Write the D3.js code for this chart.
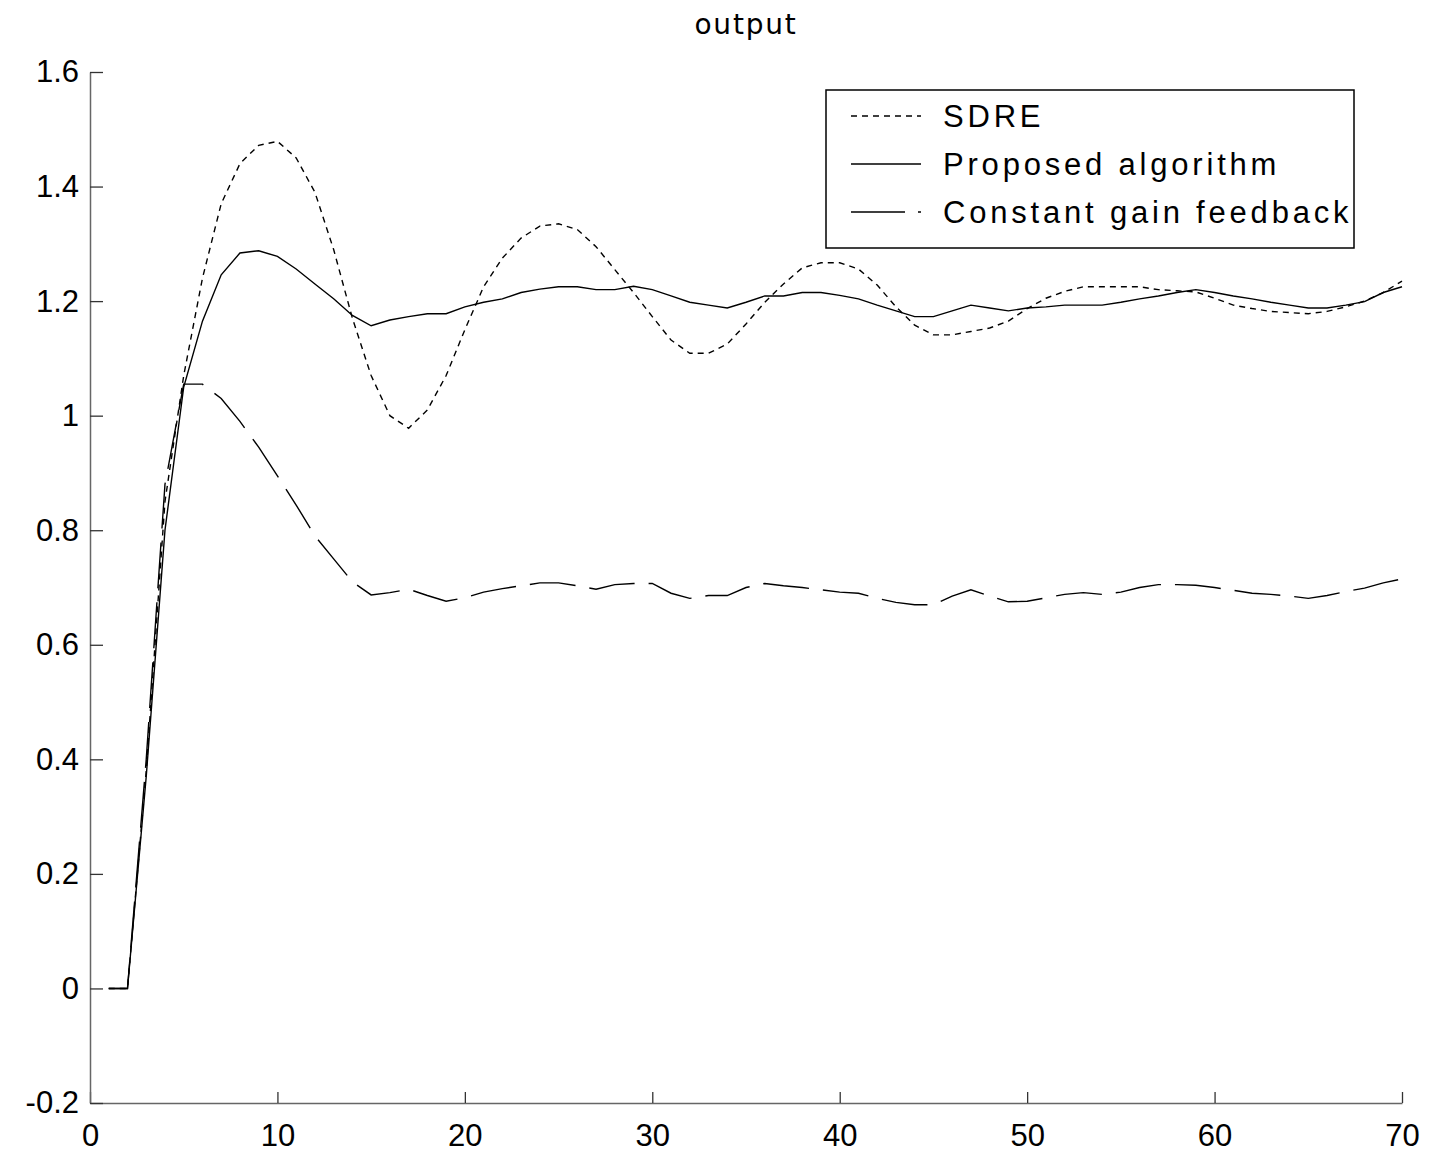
<!DOCTYPE html>
<html>
<head>
<meta charset="utf-8">
<script src="https://cdn.jsdelivr.net/npm/d3@7"></script>
<style>
	body { margin: 0; background: #fff; }
	svg { display: block; }
</style>
</head>
<body>
<div id="chart"></div>
<script>

var titleText = "output";
var xTicks = [0, 10, 20, 30, 40, 50, 60, 70];
var yTicks = [-0.2, 0, 0.2, 0.4, 0.6, 0.8, 1, 1.2, 1.4, 1.6];
var seriesNames = ["SDRE", "Proposed algorithm", "Constant gain feedback"];

// time steps 1..70
var steps = d3.range(1, 71);

var sdre = [0, 0, 0.38, 0.85, 1.07, 1.24, 1.37, 1.44, 1.472, 1.479,
	1.45, 1.39, 1.29, 1.17, 1.07, 1.00, 0.978, 1.01, 1.07, 1.15,
	1.225, 1.275, 1.31, 1.331, 1.335, 1.325, 1.295, 1.255, 1.215, 1.173,
	1.132, 1.109, 1.109, 1.125, 1.16, 1.198, 1.23, 1.258, 1.267, 1.267,
	1.256, 1.228, 1.19, 1.158, 1.141, 1.141, 1.147, 1.153, 1.165, 1.187,
	1.205, 1.217, 1.225, 1.225, 1.225, 1.225, 1.22, 1.218, 1.216, 1.205,
	1.193, 1.187, 1.182, 1.18, 1.178, 1.182, 1.19, 1.2, 1.215, 1.235];

var proposed = [0, 0, 0.37, 0.80, 1.05, 1.165, 1.246, 1.284, 1.288, 1.278,
	1.256, 1.230, 1.204, 1.175, 1.157, 1.167, 1.173, 1.178, 1.178, 1.190,
	1.198, 1.204, 1.215, 1.221, 1.225, 1.225, 1.220, 1.220, 1.226, 1.220,
	1.209, 1.198, 1.193, 1.188, 1.198, 1.209, 1.209, 1.215, 1.215, 1.210,
	1.204, 1.193, 1.183, 1.173, 1.173, 1.183, 1.193, 1.188, 1.183, 1.188,
	1.190, 1.193, 1.193, 1.193, 1.198, 1.204, 1.209, 1.215, 1.220, 1.215,
	1.209, 1.204, 1.198, 1.193, 1.188, 1.188, 1.193, 1.199, 1.215, 1.225];

var constGain = [0, 0, 0.40, 0.88, 1.055, 1.055, 1.03, 0.99, 0.945, 0.895,
	0.844, 0.79, 0.75, 0.71, 0.687, 0.691, 0.697, 0.686, 0.676, 0.682,
	0.692, 0.698, 0.703, 0.708, 0.708, 0.703, 0.697, 0.705, 0.707, 0.707,
	0.69, 0.681, 0.686, 0.686, 0.70, 0.707, 0.703, 0.70, 0.696, 0.692,
	0.690, 0.681, 0.674, 0.670, 0.670, 0.685, 0.696, 0.685, 0.675, 0.676,
	0.682, 0.688, 0.691, 0.688, 0.692, 0.700, 0.705, 0.705, 0.704, 0.700,
	0.695, 0.690, 0.688, 0.685, 0.681, 0.686, 0.693, 0.699, 0.708, 0.715];

var width = 1434, height = 1155;
var margin = {top: 72, right: 32, bottom: 52, left: 90};

var svg = d3.select("#chart")
	.append("svg")
	.attr("width", width)
	.attr("height", height);

var x = d3.scaleLinear()
	.domain([0, 70])
	.range([margin.left, width - margin.right]);

var y = d3.scaleLinear()
	.domain([-0.2, 1.6])
	.range([height - margin.bottom, margin.top]);

// axes, ticks point inward
var xAxis = svg.append("g")
	.attr("transform", "translate(0," + (height - margin.bottom) + ")")
	.call(d3.axisBottom(x).tickValues(xTicks).tickSizeInner(-11).tickSizeOuter(0).tickPadding(21));

var yAxis = svg.append("g")
	.attr("transform", "translate(" + margin.left + ",0)")
	.call(d3.axisLeft(y).tickValues(yTicks).tickSizeInner(-13).tickSizeOuter(0).tickPadding(11)
		.tickFormat(function(d) {return String(+d.toFixed(1));}));

svg.selectAll(".domain").attr("stroke", "#666").attr("stroke-width", 1.5);
svg.selectAll(".tick line").attr("stroke", "#333").attr("stroke-width", 1.3);
svg.selectAll(".tick text")
	.attr("fill", "#000")
	.style("font-family", "'Liberation Sans', Arial, sans-serif")
	.style("font-size", "31px");

xAxis.selectAll(".tick text").attr("dy", "0.71em");

// title
svg.append("text")
	.attr("x", (x(0) + x(70)) / 2)
	.attr("y", 34)
	.attr("text-anchor", "middle")
	.style("font-family", "'DejaVu Sans', sans-serif")
	.style("font-size", "28px")
	.style("letter-spacing", "1.8px")
	.text(titleText);

// lines
var dashes = ["6,5", null, "46,14"];
var seriesData = [sdre, proposed, constGain];

var line = d3.line()
	.x(function(d, i) {return x(steps[i]);})
	.y(function(d) {return y(d);});

svg.selectAll(".series")
	.data(seriesData)
	.enter()
	.append("path")
	.attr("class", "series")
	.attr("d", function(d) {return line(d);})
	.attr("fill", "none")
	.attr("stroke", "#000")
	.attr("stroke-width", 1.4)
	.attr("stroke-dasharray", function(d, i) {return dashes[i];});

// legend
var legend = svg.append("g")
	.attr("transform", "translate(826,90)");

legend.append("rect")
	.attr("x", 0)
	.attr("y", 0)
	.attr("width", 528)
	.attr("height", 158)
	.attr("fill", "#fff")
	.attr("stroke", "#000")
	.attr("stroke-width", 1.5);

var legendDashes = ["6,5", null, "54,13"];

var item = legend.selectAll(".item")
	.data(seriesNames)
	.enter()
	.append("g")
	.attr("class", "item")
	.attr("transform", function(d, i) {return "translate(0," + (26 + i * 48) + ")";});

item.append("line")
	.attr("x1", 25)
	.attr("x2", 95)
	.attr("y1", 0)
	.attr("y2", 0)
	.attr("stroke", "#000")
	.attr("stroke-width", 1.3)
	.attr("stroke-dasharray", function(d, i) {return legendDashes[i];});

item.append("text")
	.attr("x", 117)
	.attr("y", 0)
	.attr("dy", "0.36em")
	.style("font-family", "'Liberation Sans', Arial, sans-serif")
	.style("font-size", "31px")
	.style("letter-spacing", "3.8px")
	.text(function(d) {return d;});

</script>
</body>
</html>
